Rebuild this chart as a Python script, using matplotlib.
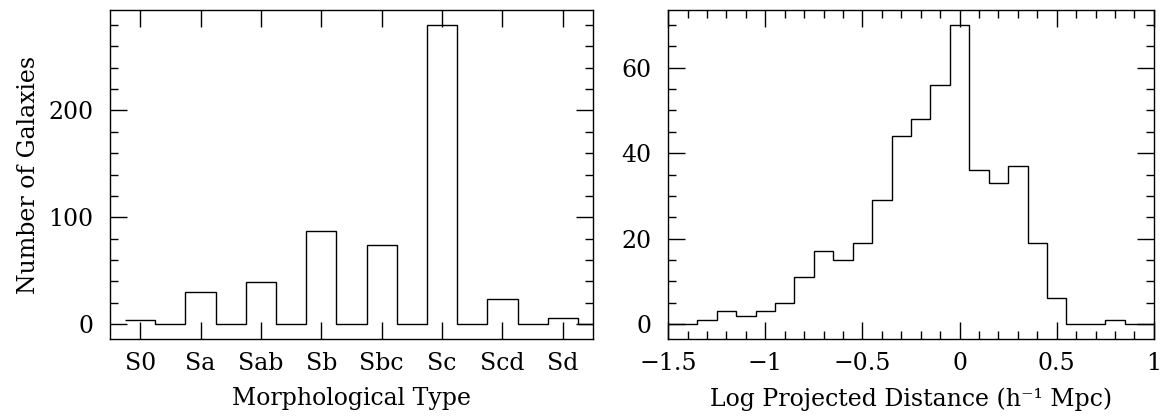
import numpy as np
import matplotlib
matplotlib.use("Agg")
import matplotlib.pyplot as plt
from matplotlib.ticker import MultipleLocator, FuncFormatter

# left panel: counts per morphological type
types = ["S0", "Sa", "Sab", "Sb", "Sbc", "Sc", "Scd", "Sd"]
type_counts = [4, 30, 39, 87, 74, 280, 23, 6]

# right panel: histogram of log projected distance, bins centred on these values
dist_centers = [-1.5, -1.4, -1.3, -1.2, -1.1, -1.0, -0.9, -0.8, -0.7, -0.6,
                -0.5, -0.4, -0.3, -0.2, -0.1, 0.0, 0.1, 0.2, 0.3, 0.4,
                0.5, 0.6, 0.7, 0.8, 0.9, 1.0]
dist_counts = [0, 0, 1, 3, 2, 3, 5, 11, 17, 15,
               19, 29, 44, 48, 56, 70, 36, 33, 37, 19,
               6, 0, 0, 1, 0, 0]

plt.rcParams['font.family'] = ['DejaVu Serif']
plt.rcParams['font.size'] = 17

fig = plt.figure(figsize=(11.62, 4.17), dpi=100)
ax1 = fig.add_axes([0.0947, 0.187, 0.4156, 0.789])
ax2 = fig.add_axes([0.575, 0.187, 0.418, 0.789])

# left: each type bar is half a unit wide, with empty half-unit gaps between
vals = []
for c in type_counts:
    vals += [c, 0]
edges = np.arange(len(vals) + 1) * 0.5 - 0.25
ax1.stairs(vals, edges, baseline=None, color='black', lw=1.0)
ax1.set_xlim(-0.5, 7.5)
ax1.set_ylim(-14, 294)
ax1.set_xticks(range(len(types)))
ax1.set_xticklabels(types)
ax1.yaxis.set_major_locator(MultipleLocator(100))
ax1.yaxis.set_minor_locator(MultipleLocator(20))
ax1.set_xlabel("Morphological Type", labelpad=9)
ax1.set_ylabel("Number of Galaxies", labelpad=6)

# right
w = 0.1
e2 = np.array(dist_centers) - w / 2
e2 = np.append(e2, dist_centers[-1] + w / 2)
ax2.stairs(dist_counts, e2, baseline=None, color='black', lw=1.0)
ax2.set_xlim(-1.5, 1.0)
ax2.set_ylim(-3.5, 73.5)
ax2.xaxis.set_major_locator(MultipleLocator(0.5))
ax2.xaxis.set_minor_locator(MultipleLocator(0.1))
ax2.yaxis.set_major_locator(MultipleLocator(20))
ax2.yaxis.set_minor_locator(MultipleLocator(5))
ax2.xaxis.set_major_formatter(FuncFormatter(lambda v, p: ("%g" % v).replace("-", "\u2212")))
ax2.set_xlabel("Log Projected Distance (h\u207b\u00b9 Mpc)", labelpad=9)

for ax in (ax1, ax2):
    for s in ax.spines.values():
        s.set_linewidth(1.0)
    ax.tick_params(which='both', direction='in', top=True, right=True, width=1.0)
    ax.tick_params(which='major', length=12)
    ax.tick_params(which='minor', length=6)
    ax.tick_params(axis='x', which='major', pad=9)
    ax.tick_params(axis='y', which='major', pad=12)

fig.savefig("out.png", dpi=100)
